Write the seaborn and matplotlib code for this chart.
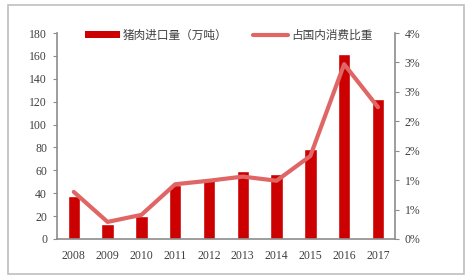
import numpy as np
import pandas as pd
import matplotlib
matplotlib.use('Agg')
import matplotlib.pyplot as plt
import seaborn as sns
from matplotlib.patches import Rectangle, Patch
from matplotlib.lines import Line2D
from matplotlib.ticker import FuncFormatter, MultipleLocator

sns.set_style("white")
plt.rcParams['font.family'] = ['Liberation Serif', 'Noto Sans CJK SC']

# data
years = ['2008', '2009', '2010', '2011', '2012', '2013', '2014', '2015', '2016', '2017']
imports = [38, 13, 20, 47, 52, 59, 57, 79, 162, 122]          # 万吨
share = [0.80, 0.29, 0.41, 0.93, 0.99, 1.06, 0.99, 1.41, 2.97, 2.24]  # %

bar_label = '猪肉进口量（万吨）'
line_label = '占国内消费比重'

df = pd.DataFrame({'year': years, 'imports': imports, 'share': share})
df['pos'] = np.arange(len(df))

bar_color = '#CC0000'
line_color = '#E06666'
axis_color = '#8C8C8C'

fig = plt.figure(figsize=(4.74, 2.79), dpi=100)
ax = fig.add_axes([0.120, 0.1434, 0.713, 0.7383])

sns.barplot(data=df, x='year', y='imports', color=bar_color, width=0.37,
            saturation=1, ax=ax)
ax.set_xlim(-0.5, len(years) - 0.5)
ax.set_ylim(0, 180)
ax.yaxis.set_major_locator(MultipleLocator(20))
ax.set_xlabel('')
ax.set_ylabel('')

ax2 = ax.twinx()
sns.lineplot(data=df, x='pos', y='share', color=line_color, linewidth=3,
             ax=ax2, legend=False)
ax2.set_ylim(0, 3.5)
ax2.yaxis.set_major_locator(MultipleLocator(0.5))
ax2.yaxis.set_major_formatter(FuncFormatter(lambda v, p: f'{int(v + 0.5)}%'))
ax2.set_ylabel('')
ax2.set_xlabel('')
ax2.set_xlim(-0.5, len(years) - 0.5)

for a in (ax, ax2):
    a.spines['top'].set_visible(False)
    for s in ('left', 'right', 'bottom'):
        a.spines[s].set_color(axis_color)
        a.spines[s].set_linewidth(1.2)
ax.spines['right'].set_visible(False)
ax2.spines['left'].set_visible(False)
ax2.spines['bottom'].set_visible(False)

# category ticks between bars
ax.set_xticks(np.arange(len(years)))
ax.set_xticklabels(years)
ax.set_xticks(np.arange(-0.5, len(years)), minor=True)
ax.tick_params(axis='x', which='major', length=0, pad=8, labelsize=8.5, labelcolor='#404040')
ax.tick_params(axis='x', which='minor', length=4, color=axis_color, direction='out')
ax.tick_params(axis='y', length=3, color=axis_color, left=True, labelsize=8.5,
               labelcolor='#404040', pad=4)
ax2.tick_params(axis='y', length=3, color=axis_color, right=True, labelsize=8.5,
                labelcolor='#404040', pad=4)

# two legend entries placed separately, as in the reference
leg_kw = dict(frameon=False, loc='center left', handlelength=3.0, handleheight=0.6,
              handletextpad=0.25, borderpad=0, borderaxespad=0,
              prop={'family': ['Noto Sans CJK SC'], 'size': 8.4})
leg1 = fig.legend([Patch(facecolor=bar_color, edgecolor='none')], [bar_label],
                  bbox_to_anchor=(85 / 474, 1 - 35 / 279), **leg_kw)
leg2 = fig.legend([Line2D([0], [0], color=line_color, linewidth=3)], [line_label],
                  bbox_to_anchor=(253 / 474, 1 - 35 / 279), **leg_kw)
for lg in (leg1, leg2):
    for t in lg.get_texts():
        t.set_color('#404040')

# outer grey frame
fig.patches.append(Rectangle((8 / 474, 5 / 279), 456 / 474, 269 / 279,
                             transform=fig.transFigure, fill=False,
                             edgecolor='#BFBFBF', linewidth=1.2))

fig.savefig('out.png', dpi=100)
